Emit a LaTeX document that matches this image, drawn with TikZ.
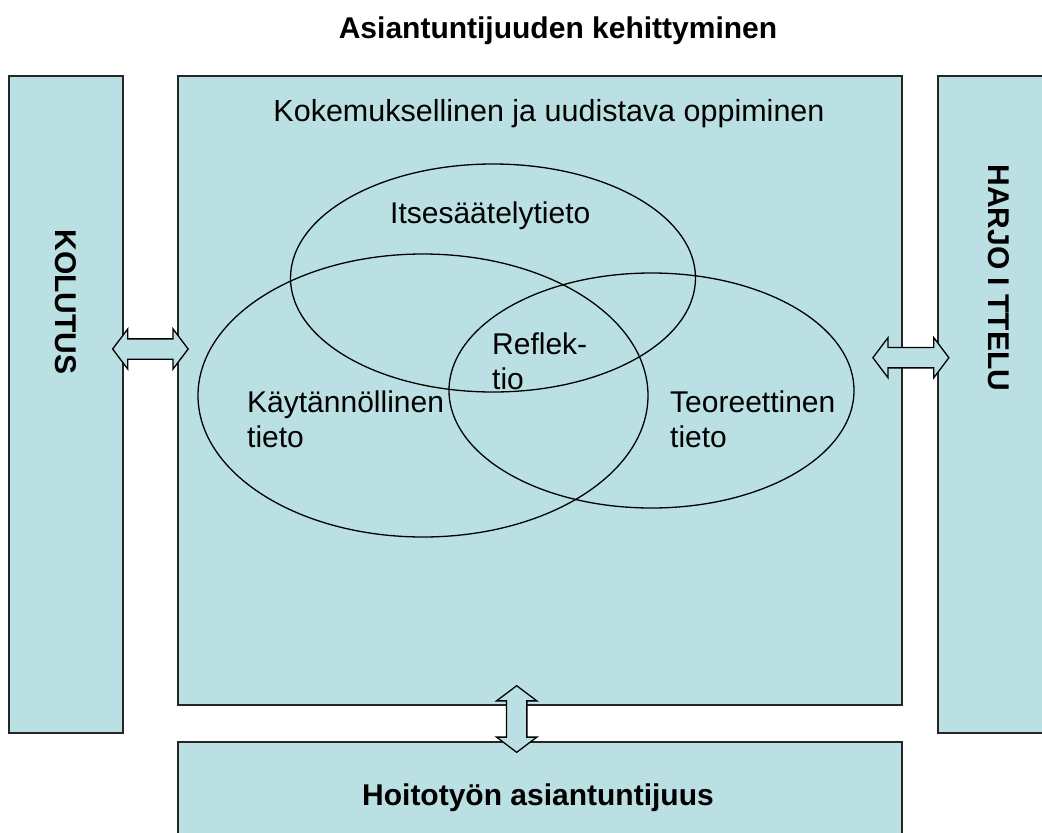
\documentclass[tikz,border=0pt]{standalone}
\usepackage{fontspec}
\setmainfont{Liberation Sans}
\usetikzlibrary{shapes.arrows,shapes.geometric}
\definecolor{panelblue}{RGB}{187,224,227}
\tikzset{
    panel/.style={
        rectangle,
        draw=black!85,
        line width=1.5pt,
        fill=panelblue,
        inner sep=0pt
    },
    ring/.style={ellipse, draw=black, line width=1.3pt, inner sep=0pt},
    bidir/.style={
        double arrow,
        draw=black,
        line width=1.3pt,
        fill=panelblue,
        inner xsep=0pt,
        inner ysep=9.5pt,
        double arrow head extend=10pt,
        double arrow tip angle=106
    },
    plain/.style={font=\fontsize{30}{35}\selectfont, inner sep=0pt, align=left},
    heavy/.style={plain, font=\fontsize{30}{35}\selectfont\bfseries},
}

\begin{document}
\begin{tikzpicture}[x=1pt, y=-1pt]
    \useasboundingbox (0,0) rectangle (1042,833);
    \clip (0,0) rectangle (1042,833);

    % title
    \node[heavy, anchor=base] (title) at (558,38) {Asiantuntijuuden kehittyminen};

    % panels
    \node[panel, minimum width=114pt, minimum height=657pt] (kolutus) at (66,404.5) {};
    \node[panel, minimum width=724pt, minimum height=629pt] (oppiminen) at (540,390.5) {};
    \node[panel, minimum width=130pt, minimum height=657pt] (harjoittelu) at (1003,404.5) {};
    \node[panel, minimum width=724pt, minimum height=120pt] (asiantuntijuus) at (540,802) {};

    \node[heavy, rotate=-90] (kolutustxt) at (66,302) {KOLUTUS};
    \node[heavy, rotate=-90] (harjtxt) at (999,278) {HARJO I TTELU};
    \node[plain, font=\fontsize{30.5}{35}\selectfont, anchor=base] (opptxt) at (549,121) {Kokemuksellinen ja uudistava oppiminen};
    \node[heavy, anchor=base] (asiatxt) at (538,805) {Hoitotyön asiantuntijuus};

    % knowledge rings
    \node[ring, minimum width=405pt, minimum height=228pt] (itse) at (493,278) {};
    \node[ring, minimum width=450pt, minimum height=283pt] (kayt) at (423,395.5) {};
    \node[ring, minimum width=405pt, minimum height=235pt] (teor) at (651.5,390.5) {};

    \node[plain, anchor=base west] (itsetxt) at (390,223) {Itsesäätelytieto};
    \node[plain, anchor=base west] (kayttxt) at (247,447) {Käytännöllinen\\tieto};
    \node[plain, anchor=base west] (teortxt) at (670,447) {Teoreettinen\\tieto};
    \node[plain, anchor=base west] (reftxt) at (492,389) {Reflek-\\tio};

    % two-way links
    \node[bidir, minimum height=75.5pt] (linkleft) at (150.4,349) {};
    \node[bidir, minimum height=76pt] (linkright) at (910.9,357.7) {};
    \node[bidir, minimum height=66.6pt, rotate=90] (linkdown) at (516.7,719) {};
\end{tikzpicture}
\end{document}
